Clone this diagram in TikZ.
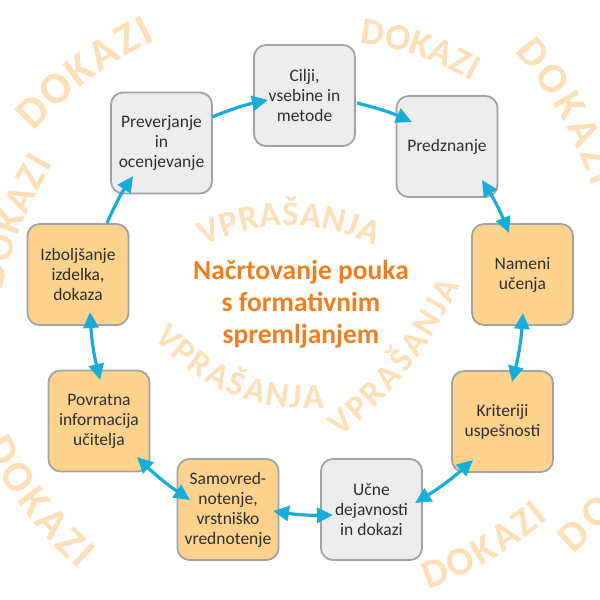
\documentclass[tikz,border=0pt]{standalone}
\usepackage{fontspec}
\setmainfont{Carlito}
\usetikzlibrary{arrows.meta,decorations.text}
\definecolor{wm}{HTML}{FDDFB8}
\definecolor{boxgray}{HTML}{EDEDEE}
\definecolor{boxorange}{HTML}{FCD28D}
\definecolor{edge}{HTML}{A2A2A4}
\definecolor{arrowc}{HTML}{17ADD8}
\definecolor{titlec}{HTML}{F07D1E}
\definecolor{txt}{HTML}{2E2E2E}
\begin{document}
\begin{tikzpicture}[x=1pt,y=1pt,
  box/.style={draw=edge, line width=1.8pt, rounded corners=12pt, minimum width=101pt, minimum height=101pt, inner sep=0pt, align=center, text=txt, font=\fontsize{17.5}{20}\selectfont},
  graybox/.style={box, fill=boxgray},
  orbox/.style={box, fill=boxorange},
  arr/.style={draw=arrowc, line width=3.2pt, -{Triangle[length=16pt,width=15pt]}},
  darr/.style={arr, {Triangle[length=16pt,width=15pt]}-{Triangle[length=16pt,width=15pt]}},
  wm/.style={decorate, decoration={text along path, text align=fit to path, text color=wm, #1}}
]
\useasboundingbox (0,0) rectangle (600,-600);
\fill[white] (0,0) rectangle (600,-600);
\clip (0,0) rectangle (600,-600);

% watermark texts
\path[wm={raise=-14.5pt, text={|\color{wm}\bfseries\fontsize{44}{44}\selectfont|DOKAZI}}] (23,-121) to[bend left=10] (149,-27);
\path[wm={raise=-13.5pt, text={|\color{wm}\bfseries\fontsize{40}{40}\selectfont|DOKAZI}}] (-11,-287) to[bend left=8] (41,-157);
\path[wm={raise=-12.5pt, text={|\color{wm}\bfseries\fontsize{37}{37}\selectfont|DOKAZI}}] (362,-30.5) to[bend left=10] (478,-70);
\path[wm={raise=-14pt, text={|\color{wm}\bfseries\fontsize{42}{42}\selectfont|DOKAZI}}] (525,-43) to[bend left=10] (606,-182);
\path[wm={raise=-14.5pt, text={|\color{wm}\bfseries\fontsize{43}{43}\selectfont|DOKAZI}}] (-4,-438.5) to[bend right=10] (89,-559);
\path[wm={raise=-13.5pt, text={|\color{wm}\bfseries\fontsize{40}{40}\selectfont|DOKAZI}}] (423,-577) to[bend right=10] (540,-508);
\path[wm={raise=-14pt, text={|\color{wm}\bfseries\fontsize{42}{42}\selectfont|DOKAZI}}] (563.5,-544) to[bend right=10] (664,-415);
\path[wm={raise=-11.5pt, text={|\color{wm}\bfseries\fontsize{35}{35}\selectfont|VPRAŠANJA}}] (199,-235) to[bend left=24] (379,-235);
\path[wm={raise=-11.5pt, text={|\color{wm}\bfseries\fontsize{35}{35}\selectfont|VPRAŠANJA}}] (162,-330) to[bend right=24] (324,-397);
\path[wm={raise=-11.5pt, text={|\color{wm}\bfseries\fontsize{35}{35}\selectfont|VPRAŠANJA}}] (333,-429) to[bend right=12] (450,-280);

% title
\node[font=\bfseries\fontsize{27.5}{32}\selectfont, text=titlec, align=center] (title) at (301,-304) {Načrtovanje pouka\\s formativnim\\spremljanjem};

% boxes
\node[graybox] (cil) at (304.5,-95.5) {Cilji,\\vsebine in\\metode};
\node[graybox] (pre) at (447,-146.5) {Predznanje};
\node[orbox] (nam) at (522.5,-274.5) {Nameni\\učenja};
\node[orbox] (kri) at (502.5,-421.5) {Kriteriji\\uspešnosti};
\node[graybox] (ucn) at (371.5,-509.5) {Učne\\dejavnosti\\in dokazi};
\node[orbox] (sam) at (228,-509.5) {Samovred-\\notenje,\\vrstniško\\vrednotenje};
\node[orbox] (pov) at (99,-421) {Povratna\\informacija\\učitelja};
\node[orbox] (izb) at (78,-274.5) {Izboljšanje\\izdelka,\\dokaza};
\node[graybox] (prv) at (161.5,-143) {Preverjanje\\in\\ocenjevanje};

% connectors
\draw[arr] ([shift={(50.5,26)}]prv.center) to[bend left=5] ([shift={(-36.5,-4.5)}]cil.center);
\draw[arr] ([shift={(52.5,-7.5)}]cil.center) to[bend left=5] ([shift={(-35,24.5)}]pre.center);
\draw[darr] ([shift={(35,-33.5)}]pre.center) to[bend left=5] ([shift={(-13.5,41.5)}]nam.center);
\draw[darr] ([shift={(0.5,-38.5)}]nam.center) to[bend left=5] ([shift={(9.5,39.5)}]kri.center);
\draw[darr] ([shift={(-29.5,-38.5)}]kri.center) to[bend left=5] ([shift={(43.5,6.5)}]ucn.center);
\draw[darr] ([shift={(-38.5,-5.5)}]ucn.center) to[bend left=5] ([shift={(45,-1.5)}]sam.center);
\draw[darr] ([shift={(-38,9.5)}]sam.center) to[bend left=5] ([shift={(38,-36)}]pov.center);
\draw[darr] ([shift={(1,41)}]pov.center) to[bend left=5] ([shift={(12,-37.5)}]izb.center);
\draw[arr] ([shift={(29,51.5)}]izb.center) to[bend left=5] ([shift={(-28.5,-33)}]prv.center);
\end{tikzpicture}
\end{document}
